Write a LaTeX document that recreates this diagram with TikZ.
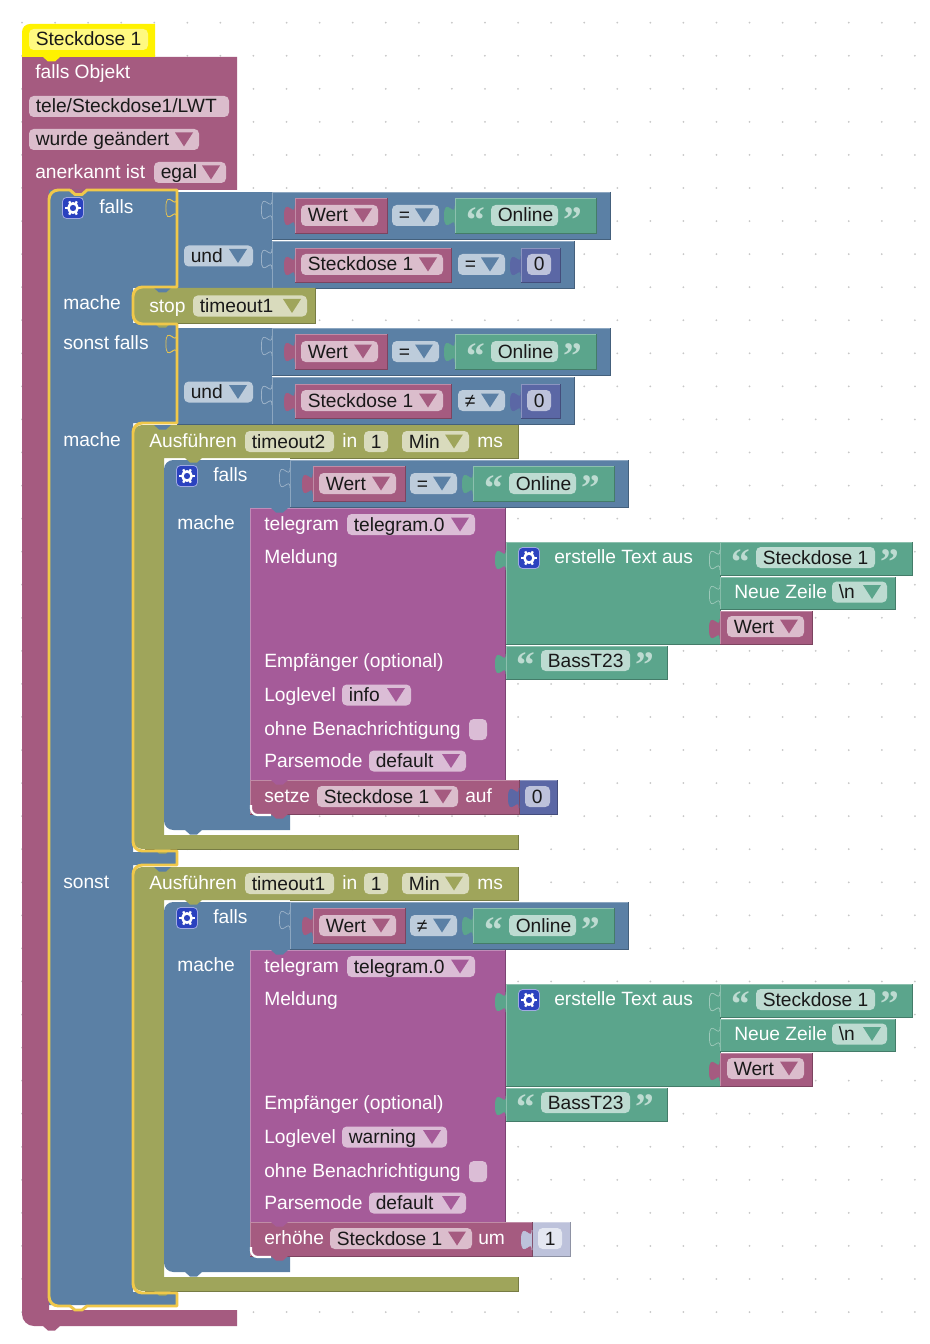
\documentclass[tikz,border=0pt]{standalone}
\usepackage{fontspec}
\setmainfont{Liberation Sans}
\newfontfamily\quotefont{Liberation Serif}

\definecolor{varpink}{HTML}{A55B80}
\definecolor{logicblue}{HTML}{5B80A5}
\definecolor{textgreen}{HTML}{5BA58C}
\definecolor{timerolive}{HTML}{9FA55B}
\definecolor{telepurple}{HTML}{A55B99}
\definecolor{numblue}{HTML}{5B67A5}
\definecolor{varfield}{HTML}{DBBDCC}
\definecolor{logicfield}{HTML}{BDCCDB}
\definecolor{textfield}{HTML}{BDDBD1}
\definecolor{timerfield}{HTML}{D9DBBD}
\definecolor{telefield}{HTML}{DBBDD6}
\definecolor{numfield}{HTML}{BDC2DB}
\definecolor{hatyellow}{HTML}{FFF200}
\definecolor{ifyellow}{HTML}{F0C84A}
\definecolor{gearblue}{HTML}{2B42BF}

% block with a light top edge and a dark lower edge
\newcommand{\vblock}[5]{
    \fill[#1] (#2,#3) rectangle (#4,#5);
    \draw[#1!70!white,line width=.5pt] (#2,#5) -- (#2,#3) -- (#4,#3);
    \draw[#1!75!black,line width=.5pt] (#4,#3) -- (#4,#5) -- (#2,#5);
}
\newcommand{\vtab}[4]{
    \draw[fill=#1,draw=#2,line width=.5pt] (#3,#4+8)
        .. controls (#3,#4+21.3) and (#3-10.6,#4-2.6) .. (#3-10.6,#4+18)
        .. controls (#3-10.6,#4+38.6) and (#3,#4+14.7) .. (#3,#4+28);
}
\newcommand{\notchfill}[3]{
    \fill[#1] (#2,#3) -- (#2+5,#3+4.5) -- (#2+12,#3+4.5) -- (#2+17,#3) -- cycle;
}
\newcommand{\lbl}[4]{\node[lbl] (#1) at (#2,#3+6.5) {#4};}
\newcommand{\txtfield}[6]{
    \fill[#5,rounded corners=3.5] (#2,#4-10.5) rectangle (#3,#4+10.5);
    \node[val] (#1) at (#2+6.5,#4+6.5) {#6};
}
\newcommand{\ddfield}[7]{
    \txtfield{#1}{#2}{#3}{#4}{#5}{#7}
    \fill[#6] (#3-24,#4-7) -- (#3-6,#4-7) -- (#3-15,#4+7) -- cycle;
}
\newcommand{\gearicon}[2]{
    \draw[fill=gearblue,draw=gearblue!45!white,line width=.6pt,rounded corners=3] (#1-10.5,#2-10.5) rectangle (#1+10.5,#2+10.5);
    \draw[white,line width=1.9pt] (#1,#2) circle[radius=4.6];
    \foreach \a in {0,60,...,300}
        \draw[white,line width=1.7pt] ({#1+5*cos(\a)},{#2+5*sin(\a)}) -- ({#1+7.6*cos(\a)},{#2+7.6*sin(\a)});
}
\newcommand{\textval}[6]{
    \node[qmark] (#1a) at (#2+20,#4+17) {“};
    \txtfield{#1}{#2+35}{#3}{#4}{textfield}{#6}
    \node[qmark] (#1b) at (#3+15,#4+17) {”};
}
% Wert <cmp> "Online"
\newcommand{\wertrow}[4]{
    \vblock{logicblue}{#2}{#3}{#2+338}{#3+47}
    \vtab{logicblue}{logicblue!60!white}{#2}{#3}
    \vtab{varpink}{varpink}{#2+23}{#3+6}
    \vblock{varpink}{#2+23}{#3+6}{#2+115}{#3+41}
    \ddfield{wert#1}{#2+29}{#2+106}{#3+23.5}{varfield}{varpink}{Wert}
    \ddfield{cmp#1}{#2+120}{#2+167}{#3+23.5}{logicfield}{logicblue}{#4}
    \vtab{textgreen}{textgreen}{#2+183}{#3+6}
    \vblock{textgreen}{#2+183}{#3+6}{#2+324}{#3+41}
    \textval{on#1}{#2+184}{#2+286}{#3+23.5}{}{Online}
}
% Steckdose 1 <cmp> 0
\newcommand{\socketrow}[3]{
    \vblock{logicblue}{272}{#2}{574}{#2+47}
    \vtab{logicblue}{logicblue!60!white}{272}{#2}
    \vtab{varpink}{varpink}{295}{#2+7}
    \vblock{varpink}{295}{#2+7}{451}{#2+41}
    \ddfield{sock#1}{301}{443}{#2+23.5}{varfield}{varpink}{Steckdose 1}
    \ddfield{cmps#1}{458}{505}{#2+23.5}{logicfield}{logicblue}{#3}
    \vtab{numblue}{numblue}{521}{#2+7}
    \vblock{numblue}{521}{#2+7}{560}{#2+41}
    \txtfield{zero#1}{527}{551}{#2+23.5}{numfield}{0}
}
\newcommand{\corner}[3]{
    \draw[white,line width=1.6pt,rounded corners=5] (#1,#2-10) -- (#1,#2) -- (#3,#2);
}

\begin{document}
\begin{tikzpicture}[x=.75pt,y=-.75pt,
    lbl/.style={text=white,font=\fontsize{14.4}{16}\selectfont,anchor=base west,inner sep=0pt},
    val/.style={lbl,text=black!90},
    qmark/.style={text=textfield,font=\quotefont\bfseries\fontsize{28}{30}\selectfont,anchor=base,inner sep=0pt},
    griddot/.style={fill=black!22},
    ifline/.style={draw=ifyellow,line width=2.2pt,line join=round}]
    \useasboundingbox (0,0) rectangle (930,1344);
    \fill[white] (0,0) rectangle (930,1344);

    \foreach \i in {0,...,27}
        \foreach \j in {0,...,39}
            \fill[griddot] (22+33.07*\i,22.7+33.06*\j) circle[radius=1];

    % object trigger
    \fill[varpink] (22,57) -- (237,57) -- (237,190) -- (49,190) -- (49,1310) -- (237,1310) -- (237,1326) [rounded corners=9] -- (22,1326) [sharp corners] -- (22,57) -- cycle;
    \notchfill{varpink}{43}{1326}
    \fill[hatyellow] (22,57) [rounded corners=6] -- (22,24) [sharp corners] -- (155,24) -- (155,57) -- cycle;
    \notchfill{hatyellow}{43}{57}
    \txtfield{hat}{29}{148}{39.5}{hatyellow!50!white}{Steckdose 1}
    \lbl{ifobj}{35}{72.5}{falls Objekt}
    \txtfield{topic}{29}{229}{106.5}{varfield}{tele/Steckdose1/LWT}
    \ddfield{change}{29}{199}{139.5}{varfield}{varpink}{wurde geändert}
    \lbl{ack}{35}{172.5}{anerkannt ist}
    \ddfield{ackval}{154}{226}{172.5}{varfield}{varpink}{egal}

    % if / else if / else
    \fill[logicblue] (177,190) -- (177,288) -- (133,288) -- (133,323) -- (177,323) -- (177,423) -- (133,423) -- (133,852) -- (177,852) -- (177,865) -- (133,865) -- (133,1292) -- (177,1292) -- (177,1305) -- (49,1305) -- (49,190) -- cycle;
    \notchfill{varpink}{70}{190}
    \gearicon{73}{208}
    \lbl{if1}{99}{207.5}{falls}
    \lbl{do1}{63}{303.5}{mache}
    \lbl{if2}{63}{343}{sonst falls}
    \lbl{do2}{63}{440}{mache}
    \lbl{else}{63}{882}{sonst}

    \foreach \s/\ya in {a/192,b/328}{
        \fill[logicblue] (177,\ya) rectangle (272,\ya+96);
        \draw[logicblue!75!black,line width=.5pt] (177,\ya+96) -- (272,\ya+96);
        \ddfield{und\s}{184}{253}{\ya+64}{logicfield}{logicblue}{und}
        \vtab{logicblue}{ifyellow}{177}{\ya-2}
        \vtab{logicblue}{ifyellow}{176.5}{\ya-2}
        \vtab{logicblue}{logicblue!60!white}{272}{\ya+49}
    }
    \wertrow{a}{272}{192}{=}
    \socketrow{a}{241}{=}
    \wertrow{b}{272}{328}{=}
    \socketrow{b}{377}{≠}

    \fill[timerolive] (133,305) [rounded corners=7] -- (133,288) [sharp corners] -- (315,288) -- (315,323) [rounded corners=7] -- (133,323) [sharp corners] -- cycle;
    \draw[timerolive!75!black,line width=.5pt] (315,288) -- (315,323) -- (140,323);
    \notchfill{logicblue}{154}{288}
    \notchfill{timerolive}{154}{323}
    \lbl{stop}{149}{305.5}{stop}
    \ddfield{stopval}{193}{307}{306}{timerfield}{timerolive}{timeout1}

    % both timers
    \foreach \s/\dy/\tname/\cmp/\lvl/\lvlx in {a/0/timeout2/=/info/411,b/442/timeout1/≠/warning/447}{
        \fill[timerolive] (133,458+\dy) [rounded corners=7] -- (133,425+\dy) [sharp corners] -- (518,425+\dy) -- (518,458+\dy) -- (164,458+\dy) -- (164,835+\dy) -- (518,835+\dy) -- (518,849+\dy) [rounded corners=7] -- (133,849+\dy) [sharp corners] -- (133,458+\dy) -- cycle;
        \draw[timerolive!75!black,line width=.5pt] (518,425+\dy) -- (518,458+\dy) -- (290,458+\dy) (518,835+\dy) -- (518,849+\dy) -- (145,849+\dy);
        \notchfill{logicblue}{154}{425+\dy}
        \notchfill{timerolive}{154}{849+\dy}
        \lbl{run\s}{149}{441+\dy}{Ausführen}
        \txtfield{tm\s}{245}{334}{441.5+\dy}{timerfield}{\tname}
        \lbl{in\s}{342}{441+\dy}{in}
        \txtfield{one\s}{364}{388}{441.5+\dy}{timerfield}{1}
        \ddfield{min\s}{402}{469}{441.5+\dy}{timerfield}{timerolive}{Min}
        \lbl{ms\s}{477}{441+\dy}{ms}

        \fill[logicblue] (164,815+\dy) [rounded corners=7] -- (164,460+\dy) [sharp corners] -- (290,460+\dy) -- (290,508+\dy) -- (250,508+\dy) -- (250,815+\dy) -- (290,815+\dy) -- (290,830+\dy) [rounded corners=7] -- (164,830+\dy) [sharp corners] -- (164,815+\dy) -- cycle;
        \notchfill{timerolive}{185}{458+\dy}
        \notchfill{logicblue}{185}{830+\dy}
        \gearicon{187}{476+\dy}
        \lbl{fa\s}{213}{474.5+\dy}{falls}
        \lbl{dd\s}{177}{523+\dy}{mache}
        \wertrow{\s c}{290}{460+\dy}{\cmp}

        \vblock{telepurple}{250}{508+\dy}{505}{780+\dy}
        \notchfill{logicblue}{271}{508+\dy}
        \lbl{tg\s}{264}{524+\dy}{telegram}
        \ddfield{inst\s}{347}{475}{524.5+\dy}{telefield}{telepurple}{telegram.0}
        \lbl{msg\s}{264}{557+\dy}{Meldung}
        \lbl{rcp\s}{264}{661+\dy}{Empfänger (optional)}
        \lbl{log\s}{264}{695+\dy}{Loglevel}
        \ddfield{lvl\s}{342}{\lvlx}{695+\dy}{telefield}{telepurple}{\lvl}
        \lbl{sil\s}{264}{728.5+\dy}{ohne Benachrichtigung}
        \fill[telefield,rounded corners=3.5] (469,719+\dy) rectangle (487,740+\dy);
        \lbl{prs\s}{264}{761+\dy}{Parsemode}
        \ddfield{mode\s}{369}{466}{761+\dy}{telefield}{telepurple}{default}

        % text join
        \vtab{textgreen}{textgreen}{506}{542+\dy}
        \vblock{textgreen}{506}{542+\dy}{720}{644+\dy}
        \gearicon{529}{558+\dy}
        \lbl{mk\s}{554}{557+\dy}{erstelle Text aus}
        \vtab{textgreen}{textgreen!60!white}{720}{542+\dy}
        \vblock{textgreen}{720}{542+\dy}{912}{575+\dy}
        \vtab{textgreen}{textgreen!60!white}{720}{542+\dy}
        \textval{name\s}{721}{875}{557.5+\dy}{}{Steckdose 1}
        \vblock{textgreen}{720}{577+\dy}{895}{609+\dy}
        \vtab{textgreen}{textgreen!60!white}{720}{577+\dy}
        \lbl{nl\s}{734}{591.5+\dy}{Neue Zeile}
        \ddfield{nlv\s}{832}{887}{592+\dy}{textfield}{textgreen}{\textbackslash n}
        \vtab{varpink}{varpink}{720}{611+\dy}
        \vblock{varpink}{720}{611+\dy}{812}{644+\dy}
        \ddfield{wv\s}{727}{804}{626.5+\dy}{varfield}{varpink}{Wert}
        \vtab{textgreen}{textgreen}{506}{646+\dy}
        \vblock{textgreen}{506}{646+\dy}{667}{679+\dy}
        \textval{bass\s}{506}{630}{660.5+\dy}{}{BassT23}
    }

    % setze
    \vblock{numblue}{519}{780}{557}{814}
    \txtfield{zeroc}{525}{550}{796.5}{numfield}{0}
    \vblock{varpink}{250}{780}{519}{814}
    \vtab{numblue}{numblue}{519}{780}
    \notchfill{telepurple}{271}{780}
    \notchfill{varpink}{271}{814}
    \corner{251}{815}{271}
    \lbl{set}{264}{796}{setze}
    \ddfield{setv}{317}{458}{796.5}{varfield}{varpink}{Steckdose 1}
    \lbl{auf}{465}{796}{auf}

    % erhoehe
    \vblock{numfield}{532}{1222}{570}{1256}
    \vblock{varpink}{250}{1222}{532}{1256}
    \vtab{numfield}{numfield}{532}{1222}
    \txtfield{onec}{538}{562}{1238.5}{numfield!40!white}{1}
    \notchfill{telepurple}{271}{1222}
    \notchfill{varpink}{271}{1256}
    \corner{251}{1257}{271}
    \lbl{inc}{264}{1238}{erhöhe}
    \ddfield{incv}{330}{472}{1238.5}{varfield}{varpink}{Steckdose 1}
    \lbl{um}{478}{1238}{um}

    % selected if block
    \draw[ifline] (70,190) -- (75,194.5) -- (82,194.5) -- (87,190) -- (177,190) -- (177,287) [rounded corners=7] -- (133,287) -- (133,324) [sharp corners] -- (177,324) -- (177,423) [rounded corners=7] -- (133,423) -- (133,851) [sharp corners] -- (177,851) -- (177,865) [rounded corners=7] -- (133,865) -- (133,1293) [sharp corners] -- (177,1293) -- (177,1306) -- (87,1306) -- (82,1310) -- (75,1310) -- (70,1306) [rounded corners=7] -- (49,1306) -- (49,190) [sharp corners] -- (70,190);
\end{tikzpicture}
\end{document}
